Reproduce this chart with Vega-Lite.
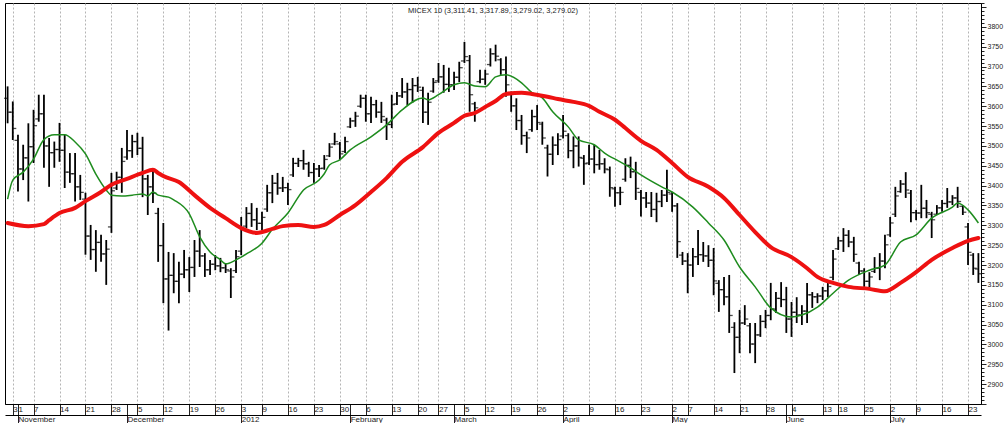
{
"$schema": "https://vega.github.io/schema/vega-lite/v6.json",
"width": 976, "height": 401,
"autosize": "none",
"padding": {"left": 5, "top": 3, "right": 23, "bottom": 19},
"background": "white",
"title": {"text": "MICEX 10 (3,311.41, 3,317.89, 3,279.02, 3,279.02)", "anchor": "middle", "frame": "group", "offset": -15, "font": "Liberation Sans", "fontSize": 7.5, "fontWeight": "normal", "color": "#222"},
"config": {"view": {"stroke": "black", "strokeWidth": 1}},
"datasets": {
"bars": [
{"d":"2011-10-28","o":3620,"h":3650,"l":3557,"c":3585},
{"d":"2011-10-31","o":3585,"h":3612,"l":3515,"c":3544},
{"d":"2011-11-01","o":3514,"h":3528,"l":3385,"c":3442},
{"d":"2011-11-02","o":3442,"h":3503,"l":3414,"c":3470},
{"d":"2011-11-03","o":3470,"h":3557,"l":3360,"c":3498},
{"d":"2011-11-07","o":3498,"h":3591,"l":3457,"c":3551},
{"d":"2011-11-08","o":3568,"h":3629,"l":3561,"c":3581},
{"d":"2011-11-09","o":3581,"h":3629,"l":3445,"c":3500},
{"d":"2011-11-10","o":3500,"h":3520,"l":3397,"c":3483},
{"d":"2011-11-11","o":3483,"h":3511,"l":3445,"c":3491},
{"d":"2011-11-14","o":3491,"h":3558,"l":3460,"c":3489},
{"d":"2011-11-15","o":3489,"h":3528,"l":3394,"c":3434},
{"d":"2011-11-16","o":3434,"h":3482,"l":3407,"c":3430},
{"d":"2011-11-17","o":3430,"h":3482,"l":3360,"c":3397},
{"d":"2011-11-18","o":3397,"h":3427,"l":3364,"c":3383},
{"d":"2011-11-21","o":3366,"h":3382,"l":3226,"c":3273},
{"d":"2011-11-22","o":3273,"h":3301,"l":3213,"c":3239},
{"d":"2011-11-23","o":3239,"h":3288,"l":3183,"c":3257},
{"d":"2011-11-24","o":3257,"h":3276,"l":3208,"c":3228},
{"d":"2011-11-25","o":3228,"h":3263,"l":3150,"c":3240},
{"d":"2011-11-28","o":3296,"h":3432,"l":3281,"c":3387},
{"d":"2011-11-29","o":3394,"h":3435,"l":3389,"c":3421},
{"d":"2011-11-30","o":3421,"h":3495,"l":3382,"c":3461},
{"d":"2011-12-01","o":3472,"h":3540,"l":3465,"c":3488},
{"d":"2011-12-02","o":3488,"h":3528,"l":3470,"c":3511},
{"d":"2011-12-05","o":3511,"h":3533,"l":3477,"c":3494},
{"d":"2011-12-06","o":3494,"h":3523,"l":3371,"c":3417},
{"d":"2011-12-07","o":3417,"h":3427,"l":3326,"c":3397},
{"d":"2011-12-08","o":3397,"h":3440,"l":3356,"c":3381},
{"d":"2011-12-09","o":3330,"h":3344,"l":3208,"c":3249},
{"d":"2011-12-12","o":3249,"h":3306,"l":3104,"c":3165},
{"d":"2011-12-13","o":3165,"h":3233,"l":3035,"c":3174},
{"d":"2011-12-14","o":3174,"h":3230,"l":3129,"c":3159},
{"d":"2011-12-15","o":3159,"h":3208,"l":3104,"c":3177},
{"d":"2011-12-16","o":3177,"h":3238,"l":3167,"c":3188},
{"d":"2011-12-19","o":3188,"h":3220,"l":3132,"c":3194},
{"d":"2011-12-20","o":3194,"h":3263,"l":3170,"c":3235},
{"d":"2011-12-21","o":3235,"h":3288,"l":3195,"c":3223},
{"d":"2011-12-22","o":3223,"h":3230,"l":3170,"c":3188},
{"d":"2011-12-23","o":3188,"h":3213,"l":3175,"c":3202},
{"d":"2011-12-26","o":3202,"h":3225,"l":3187,"c":3198},
{"d":"2011-12-27","o":3198,"h":3218,"l":3182,"c":3193},
{"d":"2011-12-28","o":3193,"h":3205,"l":3180,"c":3188},
{"d":"2011-12-29","o":3185,"h":3192,"l":3117,"c":3170},
{"d":"2011-12-30","o":3186,"h":3238,"l":3180,"c":3221},
{"d":"2012-01-03","o":3235,"h":3321,"l":3225,"c":3292},
{"d":"2012-01-04","o":3298,"h":3346,"l":3293,"c":3330},
{"d":"2012-01-05","o":3330,"h":3356,"l":3296,"c":3314},
{"d":"2012-01-06","o":3314,"h":3344,"l":3288,"c":3305},
{"d":"2012-01-09","o":3305,"h":3334,"l":3288,"c":3320},
{"d":"2012-01-10","o":3341,"h":3402,"l":3334,"c":3382},
{"d":"2012-01-11","o":3382,"h":3427,"l":3356,"c":3406},
{"d":"2012-01-12","o":3406,"h":3432,"l":3377,"c":3394},
{"d":"2012-01-13","o":3394,"h":3422,"l":3384,"c":3395},
{"d":"2012-01-16","o":3395,"h":3407,"l":3351,"c":3390},
{"d":"2012-01-17","o":3427,"h":3470,"l":3422,"c":3456},
{"d":"2012-01-18","o":3456,"h":3470,"l":3447,"c":3463},
{"d":"2012-01-19","o":3463,"h":3490,"l":3440,"c":3455},
{"d":"2012-01-20","o":3455,"h":3460,"l":3422,"c":3433},
{"d":"2012-01-23","o":3433,"h":3457,"l":3407,"c":3442},
{"d":"2012-01-24","o":3442,"h":3452,"l":3422,"c":3443},
{"d":"2012-01-25","o":3444,"h":3477,"l":3440,"c":3466},
{"d":"2012-01-26","o":3475,"h":3507,"l":3472,"c":3497},
{"d":"2012-01-27","o":3505,"h":3533,"l":3502,"c":3511},
{"d":"2012-01-30","o":3505,"h":3510,"l":3465,"c":3480},
{"d":"2012-01-31","o":3486,"h":3523,"l":3482,"c":3511},
{"d":"2012-02-01","o":3548,"h":3571,"l":3545,"c":3563},
{"d":"2012-02-02","o":3563,"h":3586,"l":3548,"c":3575},
{"d":"2012-02-03","o":3600,"h":3629,"l":3596,"c":3620},
{"d":"2012-02-06","o":3620,"h":3629,"l":3561,"c":3581},
{"d":"2012-02-07","o":3581,"h":3624,"l":3558,"c":3604},
{"d":"2012-02-08","o":3604,"h":3616,"l":3571,"c":3585},
{"d":"2012-02-09","o":3585,"h":3611,"l":3558,"c":3574},
{"d":"2012-02-10","o":3565,"h":3571,"l":3515,"c":3554},
{"d":"2012-02-13","o":3554,"h":3629,"l":3545,"c":3604},
{"d":"2012-02-14","o":3606,"h":3636,"l":3603,"c":3626},
{"d":"2012-02-15","o":3626,"h":3671,"l":3621,"c":3636},
{"d":"2012-02-16","o":3636,"h":3659,"l":3603,"c":3642},
{"d":"2012-02-17","o":3642,"h":3671,"l":3609,"c":3652},
{"d":"2012-02-20","o":3652,"h":3674,"l":3636,"c":3648},
{"d":"2012-02-21","o":3640,"h":3649,"l":3558,"c":3585},
{"d":"2012-02-22","o":3585,"h":3634,"l":3553,"c":3610},
{"d":"2012-02-24","o":3638,"h":3671,"l":3634,"c":3660},
{"d":"2012-02-27","o":3664,"h":3709,"l":3659,"c":3674},
{"d":"2012-02-28","o":3674,"h":3704,"l":3634,"c":3655},
{"d":"2012-02-29","o":3655,"h":3697,"l":3636,"c":3654},
{"d":"2012-03-01","o":3654,"h":3687,"l":3641,"c":3673},
{"d":"2012-03-02","o":3673,"h":3712,"l":3661,"c":3697},
{"d":"2012-03-05","o":3714,"h":3762,"l":3709,"c":3725},
{"d":"2012-03-06","o":3715,"h":3729,"l":3586,"c":3629},
{"d":"2012-03-07","o":3606,"h":3611,"l":3561,"c":3596},
{"d":"2012-03-11","o":3662,"h":3692,"l":3658,"c":3668},
{"d":"2012-03-12","o":3668,"h":3692,"l":3654,"c":3681},
{"d":"2012-03-13","o":3705,"h":3746,"l":3700,"c":3732},
{"d":"2012-03-14","o":3732,"h":3755,"l":3713,"c":3726},
{"d":"2012-03-15","o":3717,"h":3721,"l":3679,"c":3692},
{"d":"2012-03-16","o":3692,"h":3725,"l":3624,"c":3654},
{"d":"2012-03-19","o":3632,"h":3637,"l":3586,"c":3601},
{"d":"2012-03-20","o":3601,"h":3620,"l":3540,"c":3564},
{"d":"2012-03-21","o":3564,"h":3578,"l":3503,"c":3526},
{"d":"2012-03-22","o":3526,"h":3536,"l":3482,"c":3520},
{"d":"2012-03-23","o":3541,"h":3591,"l":3536,"c":3574},
{"d":"2012-03-26","o":3574,"h":3603,"l":3540,"c":3559},
{"d":"2012-03-27","o":3555,"h":3561,"l":3503,"c":3520},
{"d":"2012-03-28","o":3495,"h":3503,"l":3423,"c":3479},
{"d":"2012-03-29","o":3479,"h":3524,"l":3452,"c":3502},
{"d":"2012-03-30","o":3502,"h":3532,"l":3477,"c":3516},
{"d":"2012-04-02","o":3525,"h":3578,"l":3519,"c":3537},
{"d":"2012-04-03","o":3526,"h":3532,"l":3469,"c":3488},
{"d":"2012-04-04","o":3488,"h":3524,"l":3444,"c":3500},
{"d":"2012-04-05","o":3500,"h":3524,"l":3448,"c":3471},
{"d":"2012-04-06","o":3469,"h":3477,"l":3402,"c":3455},
{"d":"2012-04-09","o":3457,"h":3503,"l":3452,"c":3467},
{"d":"2012-04-10","o":3467,"h":3503,"l":3431,"c":3453},
{"d":"2012-04-11","o":3453,"h":3490,"l":3440,"c":3455},
{"d":"2012-04-12","o":3455,"h":3469,"l":3431,"c":3442},
{"d":"2012-04-13","o":3440,"h":3448,"l":3372,"c":3395},
{"d":"2012-04-16","o":3392,"h":3397,"l":3347,"c":3382},
{"d":"2012-04-17","o":3382,"h":3397,"l":3351,"c":3383},
{"d":"2012-04-18","o":3416,"h":3469,"l":3410,"c":3451},
{"d":"2012-04-19","o":3451,"h":3473,"l":3419,"c":3435},
{"d":"2012-04-20","o":3435,"h":3460,"l":3364,"c":3393},
{"d":"2012-04-23","o":3383,"h":3389,"l":3322,"c":3369},
{"d":"2012-04-24","o":3369,"h":3384,"l":3344,"c":3356},
{"d":"2012-04-25","o":3356,"h":3384,"l":3321,"c":3340},
{"d":"2012-04-26","o":3340,"h":3382,"l":3308,"c":3360},
{"d":"2012-04-27","o":3360,"h":3389,"l":3346,"c":3376},
{"d":"2012-04-28","o":3376,"h":3440,"l":3359,"c":3383},
{"d":"2012-05-02","o":3379,"h":3384,"l":3334,"c":3349},
{"d":"2012-05-03","o":3349,"h":3356,"l":3218,"c":3259},
{"d":"2012-05-04","o":3225,"h":3233,"l":3200,"c":3210},
{"d":"2012-05-07","o":3210,"h":3230,"l":3129,"c":3200},
{"d":"2012-05-08","o":3200,"h":3243,"l":3170,"c":3221},
{"d":"2012-05-10","o":3221,"h":3288,"l":3200,"c":3226},
{"d":"2012-05-11","o":3226,"h":3258,"l":3208,"c":3223},
{"d":"2012-05-12","o":3223,"h":3250,"l":3195,"c":3212},
{"d":"2012-05-14","o":3212,"h":3243,"l":3124,"c":3160},
{"d":"2012-05-15","o":3154,"h":3162,"l":3082,"c":3138},
{"d":"2012-05-16","o":3138,"h":3170,"l":3099,"c":3120},
{"d":"2012-05-17","o":3120,"h":3175,"l":3029,"c":3073},
{"d":"2012-05-18","o":3043,"h":3056,"l":2928,"c":3018},
{"d":"2012-05-21","o":3018,"h":3087,"l":2978,"c":3054},
{"d":"2012-05-22","o":3054,"h":3099,"l":3049,"c":3064},
{"d":"2012-05-23","o":3047,"h":3054,"l":2978,"c":3001},
{"d":"2012-05-24","o":3001,"h":3054,"l":2953,"c":3024},
{"d":"2012-05-25","o":3024,"h":3074,"l":3019,"c":3058},
{"d":"2012-05-28","o":3058,"h":3087,"l":3041,"c":3073},
{"d":"2012-05-29","o":3073,"h":3155,"l":3061,"c":3089},
{"d":"2012-05-30","o":3089,"h":3132,"l":3079,"c":3116},
{"d":"2012-05-31","o":3116,"h":3157,"l":3094,"c":3113},
{"d":"2012-06-01","o":3113,"h":3145,"l":3029,"c":3064},
{"d":"2012-06-04","o":3064,"h":3107,"l":3019,"c":3081},
{"d":"2012-06-05","o":3081,"h":3119,"l":3054,"c":3074},
{"d":"2012-06-06","o":3074,"h":3099,"l":3049,"c":3084},
{"d":"2012-06-07","o":3084,"h":3155,"l":3054,"c":3125},
{"d":"2012-06-08","o":3125,"h":3132,"l":3092,"c":3120},
{"d":"2012-06-09","o":3120,"h":3129,"l":3104,"c":3122},
{"d":"2012-06-13","o":3122,"h":3145,"l":3112,"c":3135},
{"d":"2012-06-14","o":3135,"h":3157,"l":3119,"c":3146},
{"d":"2012-06-15","o":3169,"h":3238,"l":3162,"c":3215},
{"d":"2012-06-18","o":3241,"h":3271,"l":3238,"c":3261},
{"d":"2012-06-19","o":3261,"h":3293,"l":3233,"c":3275},
{"d":"2012-06-20","o":3275,"h":3288,"l":3245,"c":3258},
{"d":"2012-06-21","o":3258,"h":3271,"l":3208,"c":3227},
{"d":"2012-06-22","o":3205,"h":3208,"l":3175,"c":3185},
{"d":"2012-06-25","o":3185,"h":3192,"l":3145,"c":3159},
{"d":"2012-06-26","o":3159,"h":3182,"l":3142,"c":3170},
{"d":"2012-06-27","o":3184,"h":3220,"l":3180,"c":3192},
{"d":"2012-06-28","o":3192,"h":3230,"l":3162,"c":3210},
{"d":"2012-06-29","o":3210,"h":3276,"l":3192,"c":3251},
{"d":"2012-07-02","o":3276,"h":3321,"l":3271,"c":3306},
{"d":"2012-07-03","o":3328,"h":3397,"l":3321,"c":3374},
{"d":"2012-07-04","o":3385,"h":3414,"l":3382,"c":3404},
{"d":"2012-07-05","o":3404,"h":3434,"l":3369,"c":3389},
{"d":"2012-07-06","o":3381,"h":3389,"l":3308,"c":3332},
{"d":"2012-07-09","o":3332,"h":3339,"l":3313,"c":3331},
{"d":"2012-07-10","o":3331,"h":3402,"l":3318,"c":3343},
{"d":"2012-07-11","o":3343,"h":3364,"l":3318,"c":3332},
{"d":"2012-07-12","o":3328,"h":3334,"l":3268,"c":3314},
{"d":"2012-07-13","o":3328,"h":3351,"l":3326,"c":3344},
{"d":"2012-07-16","o":3344,"h":3364,"l":3334,"c":3355},
{"d":"2012-07-17","o":3355,"h":3394,"l":3344,"c":3359},
{"d":"2012-07-18","o":3359,"h":3376,"l":3351,"c":3369},
{"d":"2012-07-19","o":3369,"h":3397,"l":3344,"c":3360},
{"d":"2012-07-20","o":3348,"h":3351,"l":3326,"c":3333},
{"d":"2012-07-23","o":3296,"h":3306,"l":3200,"c":3232},
{"d":"2012-07-24","o":3225,"h":3230,"l":3175,"c":3192},
{"d":"2012-07-25","o":3190,"h":3230,"l":3155,"c":3178}
],
"green": [
{"d":"2011-10-28","g":3366},{"d":"2011-10-31","g":3414},{"d":"2011-11-02","g":3434},{"d":"2011-11-07","g":3467},
{"d":"2011-11-09","g":3516},{"d":"2011-11-11","g":3528},{"d":"2011-11-15","g":3528},{"d":"2011-11-17","g":3510},
{"d":"2011-11-21","g":3480},{"d":"2011-11-23","g":3429},{"d":"2011-11-25","g":3389},{"d":"2011-11-28","g":3376},
{"d":"2011-11-30","g":3374},{"d":"2011-12-02","g":3376},{"d":"2011-12-06","g":3379},{"d":"2011-12-07","g":3374},
{"d":"2011-12-08","g":3384},{"d":"2011-12-09","g":3376},{"d":"2011-12-13","g":3371},{"d":"2011-12-14","g":3364},
{"d":"2011-12-19","g":3329},{"d":"2011-12-21","g":3271},{"d":"2011-12-23","g":3233},{"d":"2011-12-27","g":3213},
{"d":"2011-12-28","g":3203},{"d":"2011-12-30","g":3213},{"d":"2012-01-04","g":3228},{"d":"2012-01-09","g":3255},
{"d":"2012-01-11","g":3290},{"d":"2012-01-16","g":3331},{"d":"2012-01-19","g":3389},{"d":"2012-01-24","g":3414},
{"d":"2012-01-25","g":3430},{"d":"2012-01-26","g":3452},{"d":"2012-01-30","g":3465},{"d":"2012-02-01","g":3490},
{"d":"2012-02-07","g":3523},{"d":"2012-02-10","g":3553},{"d":"2012-02-15","g":3591},{"d":"2012-02-21","g":3621},
{"d":"2012-02-22","g":3616},{"d":"2012-02-27","g":3629},{"d":"2012-03-01","g":3654},{"d":"2012-03-05","g":3659},
{"d":"2012-03-07","g":3651},{"d":"2012-03-12","g":3649},{"d":"2012-03-14","g":3674},{"d":"2012-03-16","g":3679},
{"d":"2012-03-21","g":3659},{"d":"2012-03-23","g":3634},{"d":"2012-03-27","g":3621},{"d":"2012-03-29","g":3586},
{"d":"2012-04-03","g":3548},{"d":"2012-04-05","g":3515},{"d":"2012-04-10","g":3503},{"d":"2012-04-12","g":3482},
{"d":"2012-04-17","g":3460},{"d":"2012-04-19","g":3445},{"d":"2012-04-23","g":3427},{"d":"2012-04-27","g":3397},
{"d":"2012-05-02","g":3384},{"d":"2012-05-08","g":3346},{"d":"2012-05-12","g":3306},{"d":"2012-05-16","g":3263},
{"d":"2012-05-21","g":3195},{"d":"2012-05-24","g":3145},{"d":"2012-05-29","g":3092},{"d":"2012-06-04","g":3069},
{"d":"2012-06-06","g":3074},{"d":"2012-06-09","g":3094},{"d":"2012-06-15","g":3129},{"d":"2012-06-20","g":3162},
{"d":"2012-06-26","g":3187},{"d":"2012-06-29","g":3200},{"d":"2012-07-04","g":3258},{"d":"2012-07-09","g":3276},
{"d":"2012-07-12","g":3318},{"d":"2012-07-18","g":3346},{"d":"2012-07-19","g":3356},{"d":"2012-07-23","g":3339},
{"d":"2012-07-25","g":3306}
],
"red": [
{"d":"2011-10-28","r":3306},{"d":"2011-11-03","r":3298},{"d":"2011-11-09","r":3303},{"d":"2011-11-10","r":3313},
{"d":"2011-11-14","r":3331},{"d":"2011-11-17","r":3344},{"d":"2011-11-21","r":3361},{"d":"2011-11-24","r":3384},
{"d":"2011-11-28","r":3402},{"d":"2011-12-01","r":3417},{"d":"2011-12-06","r":3432},{"d":"2011-12-08","r":3440},
{"d":"2011-12-09","r":3432},{"d":"2011-12-12","r":3424},{"d":"2011-12-15","r":3409},{"d":"2011-12-20","r":3376},
{"d":"2011-12-23","r":3344},{"d":"2011-12-28","r":3318},{"d":"2012-01-03","r":3293},{"d":"2012-01-06","r":3281},
{"d":"2012-01-11","r":3291},{"d":"2012-01-13","r":3298},{"d":"2012-01-18","r":3301},{"d":"2012-01-23","r":3296},
{"d":"2012-01-25","r":3301},{"d":"2012-01-30","r":3326},{"d":"2012-02-02","r":3351},{"d":"2012-02-07","r":3384},
{"d":"2012-02-10","r":3419},{"d":"2012-02-15","r":3460},{"d":"2012-02-21","r":3497},{"d":"2012-02-27","r":3533},
{"d":"2012-03-01","r":3558},{"d":"2012-03-05","r":3576},{"d":"2012-03-07","r":3583},{"d":"2012-03-12","r":3598},
{"d":"2012-03-14","r":3613},{"d":"2012-03-16","r":3631},{"d":"2012-03-21","r":3634},{"d":"2012-03-23","r":3631},
{"d":"2012-03-28","r":3624},{"d":"2012-03-30","r":3618},{"d":"2012-04-04","r":3611},{"d":"2012-04-09","r":3601},
{"d":"2012-04-11","r":3586},{"d":"2012-04-16","r":3566},{"d":"2012-04-18","r":3545},{"d":"2012-04-23","r":3513},
{"d":"2012-04-26","r":3490},{"d":"2012-05-02","r":3457},{"d":"2012-05-07","r":3422},{"d":"2012-05-12","r":3397},
{"d":"2012-05-16","r":3369},{"d":"2012-05-21","r":3326},{"d":"2012-05-24","r":3283},{"d":"2012-05-29","r":3245},
{"d":"2012-06-04","r":3220},{"d":"2012-06-07","r":3192},{"d":"2012-06-09","r":3170},{"d":"2012-06-15","r":3155},
{"d":"2012-06-20","r":3145},{"d":"2012-06-26","r":3140},{"d":"2012-06-29","r":3134},{"d":"2012-07-04","r":3155},
{"d":"2012-07-09","r":3182},{"d":"2012-07-12","r":3213},{"d":"2012-07-18","r":3243},{"d":"2012-07-23","r":3261},
{"d":"2012-07-25","r":3268}
]
},
"layer": [
{
"data": {"name": "bars"},
"mark": {"type": "rule", "color": "black", "strokeWidth": 1.8},
"encoding": {
"x": {"field": "d", "type": "ordinal", "scale": {"type": "point", "padding": 0.5},
"axis": {"orient": "bottom", "title": null,
"values": ["2011-10-31","2011-11-01","2011-11-07","2011-11-14","2011-11-21","2011-11-28","2011-12-01","2011-12-05","2011-12-12","2011-12-19","2011-12-26","2012-01-03","2012-01-09","2012-01-16","2012-01-23","2012-01-30","2012-02-01","2012-02-06","2012-02-13","2012-02-20","2012-02-27","2012-03-01","2012-03-05","2012-03-12","2012-03-19","2012-03-26","2012-04-02","2012-04-09","2012-04-16","2012-04-23","2012-05-02","2012-05-07","2012-05-14","2012-05-21","2012-05-28","2012-06-01","2012-06-04","2012-06-13","2012-06-18","2012-06-25","2012-07-02","2012-07-09","2012-07-16","2012-07-23"],
"labelExpr": "datum.value == '2011-10-31' ? '3' : (indexof(['2011-12-01','2012-02-01','2012-03-01','2012-06-01'], datum.value) >= 0 ? '' : '' + toNumber(substring(datum.value, 8, 10)))",
"domain": true, "domainColor": "black", "domainWidth": 1,
"ticks": true, "tickColor": "#222", "tickSize": 11, "tickWidth": 1,
"labelAlign": "left", "labelBaseline": "middle", "labelPadding": -5.5, "labelDx": 2, "labelAngle": 0,
"labelFont": "Liberation Sans", "labelFontSize": 8, "labelColor": "#222",
"labelOverlap": false, "labelBound": false, "labelFlush": false,
"grid": true, "gridColor": "#b4b4b4", "gridDash": [2, 2], "gridWidth": 1,
"gridOpacity": {"condition": {"test": "indexof(['2011-11-01','2011-12-01','2012-02-01','2012-03-01','2012-06-01'], datum.value) >= 0", "value": 0}, "value": 1}
}},
"y": {"field": "h", "type": "quantitative", "scale": {"domain": [2850, 3860], "nice": false, "zero": false},
"axis": {"orient": "right", "title": null,
"values": [2850,2860,2870,2880,2890,2900,2910,2920,2930,2940,2950,2960,2970,2980,2990,3000,3010,3020,3030,3040,3050,3060,3070,3080,3090,3100,3110,3120,3130,3140,3150,3160,3170,3180,3190,3200,3210,3220,3230,3240,3250,3260,3270,3280,3290,3300,3310,3320,3330,3340,3350,3360,3370,3380,3390,3400,3410,3420,3430,3440,3450,3460,3470,3480,3490,3500,3510,3520,3530,3540,3550,3560,3570,3580,3590,3600,3610,3620,3630,3640,3650,3660,3670,3680,3690,3700,3710,3720,3730,3740,3750,3760,3770,3780,3790,3800,3810,3820,3830,3840,3850,3860],
"labelExpr": "(datum.value % 50 == 0 && datum.value >= 2900 && datum.value <= 3800) ? format(datum.value, 'd') : ''",
"tickSize": {"condition": {"test": "datum.value % 50 == 0", "value": 5}, "value": 3},
"tickColor": "#222", "domainColor": "black", "grid": false,
"labelPadding": 1, "labelFont": "Liberation Sans", "labelFontSize": 7, "labelColor": "#222",
"labelOverlap": false, "labelBound": false, "labelFlush": false}},
"y2": {"field": "l"}
}
},
{
"data": {"name": "bars"},
"mark": {"type": "tick", "color": "black", "size": 3, "thickness": 1.3, "xOffset": -2},
"encoding": {
"x": {"field": "d", "type": "ordinal",
"axis": {"orient": "bottom", "title": null, "offset": 11,
"values": ["2011-11-01","2011-12-01","2012-01-03","2012-02-01","2012-03-01","2012-04-02","2012-05-02","2012-06-01","2012-07-02"],
"labelExpr": "['2012','February','March','April','May','June','July','August','September','October','November','December'][toNumber(substring(datum.value, 5, 7)) - 1]",
"domain": true, "domainColor": "black", "domainWidth": 1,
"ticks": true, "tickColor": "#222", "tickSize": 9, "tickWidth": 1,
"labelAlign": "left", "labelBaseline": "middle", "labelPadding": -4.5, "labelDx": 2, "labelAngle": 0,
"labelFont": "Liberation Sans", "labelFontSize": 8, "labelColor": "#222",
"labelOverlap": false, "labelBound": false, "labelFlush": false, "grid": false}},
"y": {"field": "o", "type": "quantitative", "axis": null}
}
},
{
"data": {"name": "bars"},
"mark": {"type": "tick", "color": "black", "size": 3, "thickness": 1.3, "xOffset": 2},
"encoding": {
"x": {"field": "d", "type": "ordinal", "axis": null},
"y": {"field": "c", "type": "quantitative", "axis": null}
}
},
{
"data": {"name": "green"},
"mark": {"type": "line", "color": "#1e8c1e", "strokeWidth": 1.5, "interpolate": "monotone"},
"encoding": {
"x": {"field": "d", "type": "ordinal", "axis": null},
"y": {"field": "g", "type": "quantitative", "axis": null}
}
},
{
"data": {"name": "red"},
"mark": {"type": "line", "color": "#ee1111", "strokeWidth": 4, "interpolate": "monotone", "strokeCap": "round"},
"encoding": {
"x": {"field": "d", "type": "ordinal", "axis": null},
"y": {"field": "r", "type": "quantitative", "axis": null}
}
}
],
"resolve": {"axis": {"x": "independent", "y": "independent"}}
}
